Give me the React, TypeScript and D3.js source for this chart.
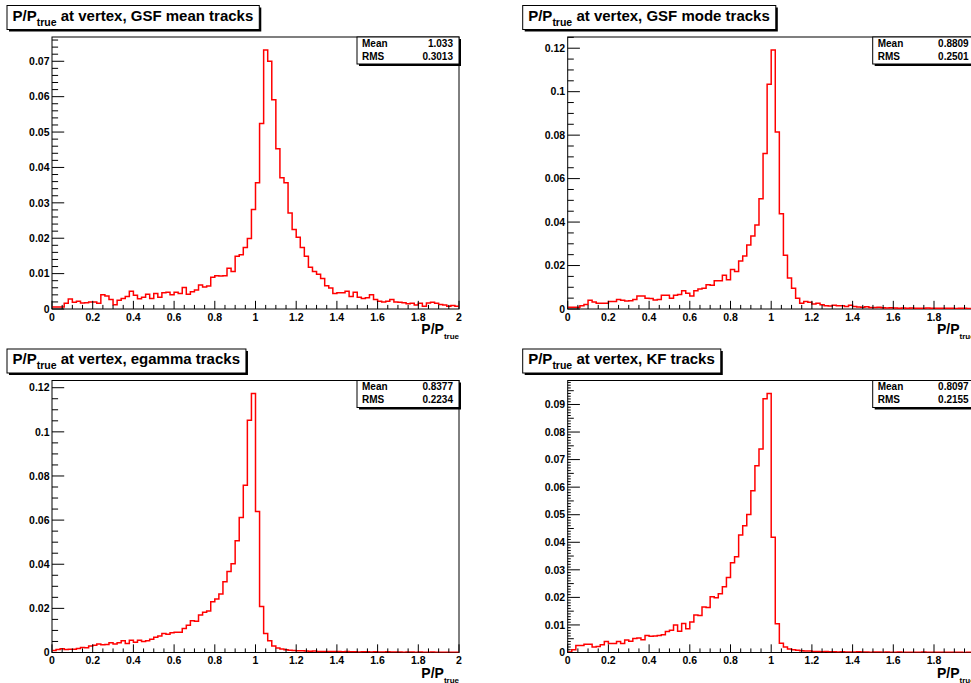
import React from "react";
import * as d3 from "d3";

// ---------- data (bin contents, 100 bins of width 0.02 from 0 to 2) ----------
const binEdges = d3.range(0, 101).map((i) => i * 0.02);

const gsfMean = [
  0.0006, 0.0006, 0.0006, 0.0016, 0.0028, 0.0019, 0.0022, 0.0017, 0.0018, 0.002,
  0.002, 0.0016, 0.004, 0.0037, 0.0027, 0.0012, 0.0025, 0.003, 0.0035, 0.005,
  0.0039, 0.0029, 0.0033, 0.0042, 0.003, 0.0044, 0.0033, 0.0046, 0.0047, 0.004,
  0.0047, 0.0044, 0.0061, 0.0042, 0.0049, 0.0054, 0.0068, 0.0062, 0.0065, 0.009,
  0.0094, 0.0093, 0.0094, 0.0115, 0.0106, 0.0149, 0.0153, 0.0174, 0.0199, 0.0281,
  0.0357, 0.0524, 0.0732, 0.07, 0.0591, 0.0453, 0.0371, 0.0357, 0.0271, 0.0225,
  0.0203, 0.0174, 0.0149, 0.0118, 0.0106, 0.0098, 0.0086, 0.0066, 0.0059, 0.0044,
  0.0046, 0.0046, 0.005, 0.0035, 0.0047, 0.0033, 0.003, 0.0032, 0.004, 0.0027,
  0.0022, 0.002, 0.0022, 0.0027, 0.002, 0.0019, 0.0018, 0.0015, 0.0016, 0.0011,
  0.0016, 0.0008, 0.0017, 0.0019, 0.0016, 0.0013, 0.0011, 0.0008, 0.001, 0.0008,
];

const gsfMode = [
  0.0008, 0.0008, 0.0008, 0.0015, 0.0021, 0.004, 0.0032, 0.0026, 0.0026, 0.0026,
  0.0035, 0.0034, 0.0044, 0.004, 0.0037, 0.0038, 0.0044, 0.006, 0.006, 0.0049,
  0.0048, 0.0041, 0.0044, 0.0063, 0.0063, 0.0049, 0.0063, 0.0067, 0.0084, 0.0072,
  0.006, 0.0084, 0.0092, 0.0095, 0.0112, 0.0109, 0.013, 0.013, 0.0155, 0.0135,
  0.0182, 0.0173, 0.0221, 0.0244, 0.0294, 0.0336, 0.0386, 0.0507, 0.0716, 0.1034,
  0.1192, 0.0815, 0.0438, 0.0247, 0.0143, 0.0095, 0.0049, 0.0026, 0.0034, 0.0031,
  0.0023, 0.0026, 0.002, 0.0015, 0.0014, 0.0017, 0.0015, 0.0015, 0.0012, 0.0017,
  0.0011, 0.0009, 0.0008, 0.001, 0.0007, 0.0007, 0.0008, 0.0006, 0.0005, 0.0006,
  0.0005, 0.0004, 0.0005, 0.0004, 0.0005, 0.0004, 0.0003, 0.0004, 0.0005, 0.0003,
  0.0004, 0.0003, 0.0003, 0.0004, 0.0003, 0.0002, 0.0003, 0.0003, 0.0002, 0.0002,
];

const egamma = [
  0.0009, 0.0014, 0.0017, 0.0014, 0.0015, 0.0015, 0.0018, 0.0023, 0.0021, 0.0029,
  0.0033, 0.0038, 0.0035, 0.0036, 0.0044, 0.0039, 0.0044, 0.0053, 0.0041, 0.0056,
  0.0047, 0.0056, 0.005, 0.0053, 0.006, 0.0069, 0.0075, 0.0086, 0.0083, 0.0089,
  0.0092, 0.0092, 0.0109, 0.0124, 0.0144, 0.0142, 0.017, 0.0182, 0.0188, 0.023,
  0.0242, 0.0265, 0.0321, 0.0367, 0.0402, 0.0506, 0.0612, 0.0758, 0.1052, 0.1174,
  0.0639, 0.0208, 0.0086, 0.0053, 0.003, 0.002, 0.0016, 0.0012, 0.001, 0.0009,
  0.0008, 0.0008, 0.0007, 0.0006, 0.0007, 0.0005, 0.0005, 0.0004, 0.0005, 0.0004,
  0.0004, 0.0003, 0.0004, 0.0003, 0.0003, 0.0002, 0.0003, 0.0003, 0.0002, 0.0003,
  0.0002, 0.0002, 0.0003, 0.0002, 0.0002, 0.0002, 0.0001, 0.0002, 0.0002, 0.0001,
  0.0002, 0.0001, 0.0001, 0.0002, 0.0001, 0.0001, 0.0001, 0.0001, 0.0001, 0.0001,
];

const kf = [
  0.0002, 0.001, 0.0025, 0.0025, 0.003, 0.003, 0.002, 0.0022, 0.0028, 0.004,
  0.0033, 0.0033, 0.004, 0.0033, 0.0045, 0.0041, 0.0051, 0.0053, 0.0046, 0.0062,
  0.0059, 0.006, 0.0062, 0.0064, 0.0076, 0.0081, 0.01, 0.0077, 0.0105, 0.0086,
  0.0111, 0.0136, 0.0134, 0.0165, 0.0163, 0.0202, 0.0199, 0.0213, 0.0239, 0.0272,
  0.0326, 0.0347, 0.0426, 0.046, 0.0501, 0.0587, 0.0678, 0.0738, 0.0921, 0.094,
  0.0418, 0.0104, 0.0034, 0.002, 0.0013, 0.001, 0.0008, 0.0006, 0.0005, 0.0005,
  0.0004, 0.0004, 0.0003, 0.0004, 0.0003, 0.0003, 0.0002, 0.0003, 0.0002, 0.0002,
  0.0002, 0.0003, 0.0002, 0.0002, 0.0001, 0.0002, 0.0002, 0.0001, 0.0002, 0.0001,
  0.0001, 0.0002, 0.0001, 0.0001, 0.0001, 0.0001, 0.0001, 0.0002, 0.0001, 0.0001,
  0.0001, 0.0001, 0.0001, 0.0001, 0.0001, 0.0001, 0.0001, 0.0, 0.0001, 0.0001,
];

const titles = [
  "at vertex, GSF mean tracks",
  "at vertex, GSF mode tracks",
  "at vertex, egamma tracks",
  "at vertex, KF tracks",
];
const means = ["1.033", "0.8809", "0.8377", "0.8097"];
const rmsValues = ["0.3013", "0.2501", "0.2234", "0.2155"];
const xTickValues = [0, 0.2, 0.4, 0.6, 0.8, 1, 1.2, 1.4, 1.6, 1.8, 2];
// y-axis divisions per panel: [major step, minor step, sub-minor step]
const yDivisions = [
  [0.01, 0.002, 0],
  [0.02, 0.005, 0],
  [0.02, 0.005, 0],
  [0.01, 0.005, 0.001],
];
const seriesList = [gsfMean, gsfMode, egamma, kf];

// ---------- layout ----------
const W = 971;
const H = 683;
const COL_OFF = [0, 515.7];
const ROW_OFF = [0, 343.5];
const FRAME = { x0: 52, x1: 459, y0: 37, y1: 309 };
const FONT = "'Liberation Sans', Arial, Helvetica, sans-serif";

function measure(text: string, size: number): number {
  if (typeof document === "undefined") return text.length * size * 0.6;
  const c = document.createElement("canvas");
  const ctx = c.getContext("2d")!;
  ctx.font = `bold ${size}px ${FONT}`;
  return ctx.measureText(text).width;
}

function fmt(v: number): string {
  const r = Math.round(v * 10000) / 10000;
  return String(r);
}

function Panel({ idx }: { idx: number }) {
  const col = idx % 2;
  const row = Math.floor(idx / 2);
  const ox = COL_OFF[col];
  const oy = ROW_OFF[row];
  const fx0 = FRAME.x0 + ox;
  const fx1 = FRAME.x1 + ox;
  const fy0 = FRAME.y0 + oy;
  const fy1 = FRAME.y1 + oy;
  const data = seriesList[idx];
  const ymax = 1.05 * (d3.max(data) as number);
  const x = d3.scaleLinear().domain([0, 2]).range([fx0, fx1]);
  const y = d3.scaleLinear().domain([0, ymax]).range([fy1, fy0]);

  const pts: [number, number][] = data.map((v, i) => [binEdges[i], v]);
  pts.push([binEdges[100], data[99]]);
  const line = d3
    .line<[number, number]>()
    .x((d) => x(d[0]))
    .y((d) => y(d[1]))
    .curve(d3.curveStepAfter);

  const [major, minor, sub] = yDivisions[idx];
  const nMaj = Math.floor(ymax / major + 1e-9);
  const yMajor = d3.range(0, nMaj + 1).map((k) => k * major);
  const yMinor = d3
    .range(0, Math.floor(ymax / minor + 1e-9) + 1)
    .map((k) => k * minor)
    .filter((v) => Math.abs(v / major - Math.round(v / major)) > 1e-6);
  const ySub = sub
    ? d3
        .range(0, Math.floor(ymax / sub + 1e-9) + 1)
        .map((k) => k * sub)
        .filter((v) => Math.abs(v / minor - Math.round(v / minor)) > 1e-6)
    : [];
  const xMinor = d3
    .range(0, 41)
    .map((k) => k * 0.05)
    .filter((v) => Math.abs(v / 0.2 - Math.round(v / 0.2)) > 1e-6);

  const frameW = fx1 - fx0;
  const frameH = fy1 - fy0;
  const yMajLen = 0.03 * frameW;
  const xMajLen = 0.03 * frameH;

  // title box
  const tw =
    measure("P/P", 15) + measure("true", 10.5) + measure(" " + titles[idx], 15);
  const tbx = 7 + ox;
  const tby = 5.5 + (row === 0 ? 0 : 343.5);
  const tbw = tw + 11.5;
  const tbh = 24;

  // stats box
  const sbw = 102;
  const sbh = 27;
  const sbx = fx1 - sbw;
  const sby = fy0;

  const clipId = `clip${idx}`;
  return (
    <g>
      <defs>
        <clipPath id={clipId}>
          <rect x={fx0} y={fy0} width={frameW} height={frameH} />
        </clipPath>
      </defs>
      {/* frame */}
      <rect x={fx0} y={fy0} width={frameW} height={frameH} fill="white" stroke="black" strokeWidth={1} />
      {/* histogram */}
      <path d={line(pts) || ""} fill="none" stroke="#ff0000" strokeWidth={1.5} clipPath={`url(#${clipId})`} />
      {/* y ticks */}
      {yMajor.map((v) => (
        <g key={"ym" + v}>
          <line x1={fx0} x2={fx0 + yMajLen} y1={y(v)} y2={y(v)} stroke="black" strokeWidth={1} />
          <text x={fx0 - 2.5} y={y(v) + 3.7} textAnchor="end" fontSize={10.5} fontWeight="bold" fontFamily={FONT}>
            {fmt(v)}
          </text>
        </g>
      ))}
      {yMinor.map((v) => (
        <line key={"yn" + v} x1={fx0} x2={fx0 + yMajLen / 2} y1={y(v)} y2={y(v)} stroke="black" strokeWidth={1} />
      ))}
      {ySub.map((v) => (
        <line key={"ys" + v} x1={fx0} x2={fx0 + yMajLen / 4} y1={y(v)} y2={y(v)} stroke="black" strokeWidth={1} />
      ))}
      {/* x ticks */}
      {xTickValues.map((v) => (
        <g key={"xm" + v}>
          <line x1={x(v)} x2={x(v)} y1={fy1} y2={fy1 - xMajLen} stroke="black" strokeWidth={1} />
          <text x={x(v)} y={fy1 + 11.7} textAnchor="middle" fontSize={10.5} fontWeight="bold" fontFamily={FONT}>
            {fmt(v)}
          </text>
        </g>
      ))}
      {xMinor.map((v) => (
        <line key={"xn" + v} x1={x(v)} x2={x(v)} y1={fy1} y2={fy1 - xMajLen / 2} stroke="black" strokeWidth={1} />
      ))}
      {/* x axis title */}
      <text x={fx1} y={fy1 + 25} textAnchor="end" fontWeight="bold" fontFamily={FONT} fontSize={14}>
        P/P
        <tspan fontSize={8} dy={5}>true</tspan>
      </text>
      {/* title box */}
      <rect x={tbx + 2} y={tby + 2} width={tbw} height={tbh} fill="black" />
      <rect x={tbx} y={tby} width={tbw} height={tbh} fill="white" stroke="black" strokeWidth={1} />
      <text x={tbx + 5.5} y={tby + 15.3} fontWeight="bold" fontFamily={FONT} fontSize={15}>
        P/P
        <tspan fontSize={10.5} dy={4.7}>true</tspan>
        <tspan fontSize={15} dy={-4.7}>{" " + titles[idx]}</tspan>
      </text>
      {/* stats box */}
      <rect x={sbx + 2} y={sby + 2} width={sbw} height={sbh} fill="black" />
      <rect x={sbx} y={sby} width={sbw} height={sbh} fill="white" stroke="black" strokeWidth={1} />
      <text x={sbx + 5} y={sby + 9.6} fontWeight="bold" fontFamily={FONT} fontSize={10}>Mean</text>
      <text x={sbx + sbw - 6} y={sby + 9.6} textAnchor="end" fontWeight="bold" fontFamily={FONT} fontSize={10}>
        {means[idx]}
      </text>
      <text x={sbx + 5} y={sby + 22.8} fontWeight="bold" fontFamily={FONT} fontSize={10}>RMS</text>
      <text x={sbx + sbw - 6} y={sby + 22.8} textAnchor="end" fontWeight="bold" fontFamily={FONT} fontSize={10}>
        {rmsValues[idx]}
      </text>
    </g>
  );
}

export default function App() {
  return (
    <>
      <style>{`html,body{margin:0;padding:0;background:#fff;overflow:hidden}`}</style>
      <svg width={W} height={H} style={{ display: "block" }}>
        <rect x={0} y={0} width={W} height={H} fill="white" />
        {[0, 1, 2, 3].map((i) => (
          <Panel key={i} idx={i} />
        ))}
      </svg>
    </>
  );
}
